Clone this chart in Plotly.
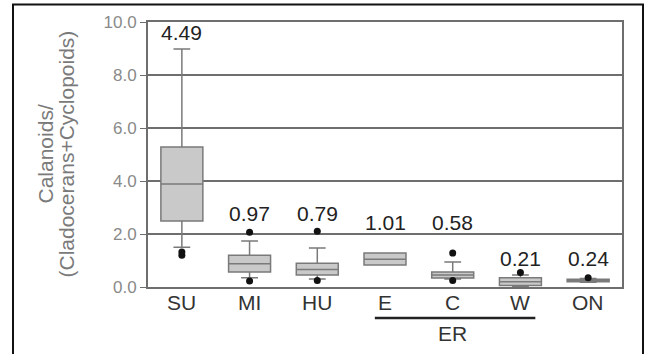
import plotly.graph_objects as go

categories = ["SU", "MI", "HU", "E", "C", "W", "ON"]
q1 = [2.49, 0.57, 0.45, 0.83, 0.34, 0.06, 0.20]
median = [3.89, 0.88, 0.66, 1.05, 0.45, 0.20, 0.25]
q3 = [5.28, 1.20, 0.90, 1.28, 0.57, 0.35, 0.29]
lowerfence = [1.50, 0.35, 0.30, 0.83, 0.30, 0.03, 0.18]
upperfence = [8.98, 1.74, 1.47, 1.28, 0.94, 0.45, 0.32]
outlier_x = ["SU", "SU", "MI", "MI", "HU", "HU", "C", "C", "W", "ON"]
outlier_y = [1.32, 1.20, 2.07, 0.23, 2.10, 0.25, 1.28, 0.25, 0.55, 0.35]
means = ["4.49", "0.97", "0.79", "1.01", "0.58", "0.21", "0.24"]
yticks = [0, 2, 4, 6, 8, 10]
yticklabels = ["0.0", "2.0", "4.0", "6.0", "8.0", "10.0"]

FONT = "Liberation Sans, Arial, sans-serif"
fig = go.Figure()
fig.add_trace(go.Box(
    x=categories, q1=q1, median=median, q3=q3,
    lowerfence=lowerfence, upperfence=upperfence,
    fillcolor="#c9c9c9", line=dict(color="#7a7a7a", width=1.5),
    width=0.62, whiskerwidth=0.4, boxpoints=False, showlegend=False,
    hoverinfo="skip",
))
fig.add_trace(go.Scatter(
    x=outlier_x, y=outlier_y, mode="markers",
    marker=dict(color="#111111", size=7), showlegend=False, hoverinfo="skip",
))

label_y = [9.62, 2.79, 2.79, 2.45, 2.45, 1.09, 1.09]
for c, m, ly in zip(categories, means, label_y):
    fig.add_annotation(x=c, y=ly, text=m, showarrow=False,
                       font=dict(family=FONT, size=21, color="#222222"))

# category labels
for c in categories:
    fig.add_annotation(x=c, y=-0.06, yref="paper", text=c, showarrow=False,
                       yanchor="middle",
                       font=dict(family=FONT, size=21, color="#333333"))

# ER grouping
fig.add_shape(type="line", xref="x", yref="paper", x0=2.85, x1=5.22, y0=-0.117, y1=-0.117,
              line=dict(color="#222222", width=2.5))
fig.add_annotation(x=4, xref="x", y=-0.174, yref="paper", text="ER", showarrow=False,
                   font=dict(family=FONT, size=21, color="#333333"), yanchor="middle")

# Outer frame
fig.add_shape(type="rect", xref="paper", yref="paper",
              x0=-0.2848, x1=1.0443, y0=-0.5, y1=1.066,
              line=dict(color="#111111", width=2), layer="below")

# Axis title (two lines)
fig.add_annotation(x=(45 - 148) / 474, xref="paper", y=0.5, yref="paper",
                   text="Calanoids/", showarrow=False, xanchor="center", yanchor="middle",
                   textangle=-90, font=dict(family=FONT, size=21, color="#7a7a7a"))
fig.add_annotation(x=(66 - 148) / 474, xref="paper", y=0.5, yref="paper",
                   text="(Cladocerans+Cyclopoids)", showarrow=False, xanchor="center",
                   yanchor="middle",
                   textangle=-90, font=dict(family=FONT, size=21, color="#7a7a7a"))

fig.update_layout(
    width=647, height=354,
    margin=dict(l=148, r=25, t=22, b=67),
    paper_bgcolor="white", plot_bgcolor="white",
    font=dict(family=FONT),
)
fig.update_xaxes(
    range=[-0.5, 6.5], showgrid=False, showline=True, linecolor="#6e6e6e", linewidth=2,
    mirror=True, showticklabels=False, ticks="",
)
fig.update_yaxes(
    range=[0, 10], tickvals=yticks, ticktext=yticklabels,
    showgrid=True, gridcolor="#6e6e6e", gridwidth=1.5,
    showline=True, linecolor="#6e6e6e", linewidth=2, mirror=True,
    ticks="outside", ticklen=6, tickcolor="#6e6e6e",
    tickfont=dict(family=FONT, size=17, color="#8a8a8a"), zeroline=False,
)
fig.write_html("out.html", config={"displayModeBar": False},
               post_script="document.body.style.margin='0';")
